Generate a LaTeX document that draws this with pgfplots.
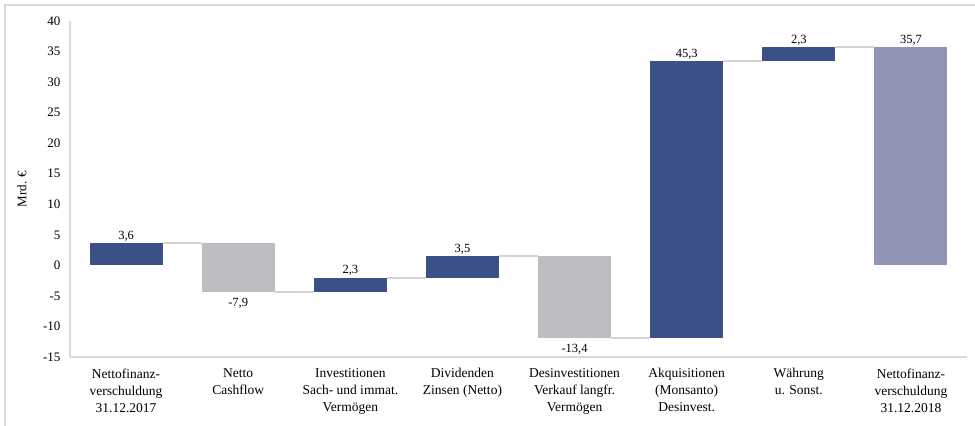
\documentclass[border=0pt]{standalone}
\usepackage{pgfplots}
\pgfplotsset{compat=1.18}
\usepackage{pgfplotstable}
\usepackage{fontspec}
\setmainfont{Liberation Serif}

\definecolor{dblue}{RGB}{58,80,134}
\definecolor{lgray}{RGB}{190,190,194}
\definecolor{lpurp}{RGB}{144,148,181}
\definecolor{axgray}{RGB}{217,217,217}
\definecolor{conn}{RGB}{212,212,212}

% waterfall bars: category position, start level, end level
% 0 Nettofinanzverschuldung 31.12.2017:  0    -> 3.6   (+3.6)
% 1 Netto Cashflow:                      3.6  -> -4.3  (-7.9)
% 2 Investitionen:                      -4.3  -> -2.0  (+2.3)
% 3 Dividenden Zinsen:                  -2.0  -> 1.5   (+3.5)
% 4 Desinvestitionen:                    1.5  -> -11.9 (-13.4)
% 5 Akquisitionen:                     -11.9  -> 33.4  (+45.3)
% 6 Waehrung u. Sonst.:                 33.4  -> 35.7  (+2.3)
% 7 Nettofinanzverschuldung 31.12.2018:  0    -> 35.7

\pgfplotstableread{
x y lab
0 3.6 3,6
2 -2.0 2,3
3 1.5 3,5
5 33.4 45,3
6 35.7 2,3
7 35.7 35,7
}\labup

\pgfplotstableread{
x y lab
1 -4.3 -7,9
4 -11.9 -13,4
}\labdown

\pgfplotsset{wfaxis/.style={scale only axis, width=897bp, height=336bp,
  xmin=-0.5, xmax=7.5, ymin=-15, ymax=40}}

\begin{document}
\begin{tikzpicture}
\useasboundingbox (-70bp,-69bp) rectangle (905bp,357bp);
\draw[axgray, line width=1.2bp] (-65bp,-69bp) -- (-65bp,352bp) -- (905bp,352bp);
\begin{axis}[wfaxis, name=ax,
  axis lines=left,
  axis line style={axgray, line width=1.5bp, -},
  major tick length=0pt,
  ytick={-15,-10,...,40},
  xtick={0,...,7},
  xticklabels={{Nettofinanz-\\verschuldung\\31.12.2017},
               {Netto\\Cashflow},
               {Investitionen\\Sach- und immat.\\Vermögen},
               {Dividenden\\Zinsen (Netto)},
               {Desinvestitionen\\Verkauf langfr.\\Vermögen},
               {Akquisitionen\\(Monsanto)\\Desinvest.},
               {Währung\\u. Sonst.},
               {Nettofinanz-\\verschuldung\\31.12.2018}},
  xticklabel style={align=center, font=\fontsize{13.5bp}{17bp}\selectfont, yshift=-8bp},
  yticklabel style={font=\fontsize{13bp}{15bp}\selectfont, xshift=-6bp},
  /pgf/number format/assume math mode=true,
  ylabel={Mrd. €},
  ylabel style={font=\fontsize{13bp}{15bp}\selectfont, at={(axis description cs:-0.0535,0.5)}, anchor=center},
]
% increases (dark blue)
\addplot[fill=dblue, draw=none] coordinates {(-0.325,0) (0.325,0) (0.325,3.6) (-0.325,3.6)};
\addplot[fill=dblue, draw=none] coordinates {(1.675,-4.3) (2.325,-4.3) (2.325,-2.0) (1.675,-2.0)};
\addplot[fill=dblue, draw=none] coordinates {(2.675,-2.0) (3.325,-2.0) (3.325,1.5) (2.675,1.5)};
\addplot[fill=dblue, draw=none] coordinates {(4.675,-11.9) (5.325,-11.9) (5.325,33.4) (4.675,33.4)};
\addplot[fill=dblue, draw=none] coordinates {(5.675,33.4) (6.325,33.4) (6.325,35.7) (5.675,35.7)};
% decreases (grey)
\addplot[fill=lgray, draw=none] coordinates {(0.675,3.6) (1.325,3.6) (1.325,-4.3) (0.675,-4.3)};
\addplot[fill=lgray, draw=none] coordinates {(3.675,1.5) (4.325,1.5) (4.325,-11.9) (3.675,-11.9)};
% total (light purple)
\addplot[fill=lpurp, draw=none] coordinates {(6.675,0) (7.325,0) (7.325,35.7) (6.675,35.7)};
% connectors
\addplot[conn, line width=2bp, unbounded coords=jump] coordinates {
 (0.325,3.6) (0.675,3.6) (0.7,nan)
 (1.325,-4.3) (1.675,-4.3) (1.7,nan)
 (2.325,-2.0) (2.675,-2.0) (2.7,nan)
 (3.325,1.5) (3.675,1.5) (3.7,nan)
 (4.325,-11.9) (4.675,-11.9) (4.7,nan)
 (5.325,33.4) (5.675,33.4) (5.7,nan)
 (6.325,35.7) (6.675,35.7)
};
\end{axis}
\begin{axis}[wfaxis, hide axis, clip=false]
\addplot[only marks, mark=none, nodes near coords, point meta=explicit symbolic,
  every node near coord/.style={anchor=south, inner sep=2bp, font=\fontsize{12.5bp}{14bp}\selectfont}]
  table[x=x, y=y, meta=lab]{\labup};
\addplot[only marks, mark=none, nodes near coords, point meta=explicit symbolic,
  every node near coord/.style={anchor=north, inner sep=6bp, font=\fontsize{12.5bp}{14bp}\selectfont}]
  table[x=x, y=y, meta=lab]{\labdown};
\end{axis}
\end{tikzpicture}
\end{document}
